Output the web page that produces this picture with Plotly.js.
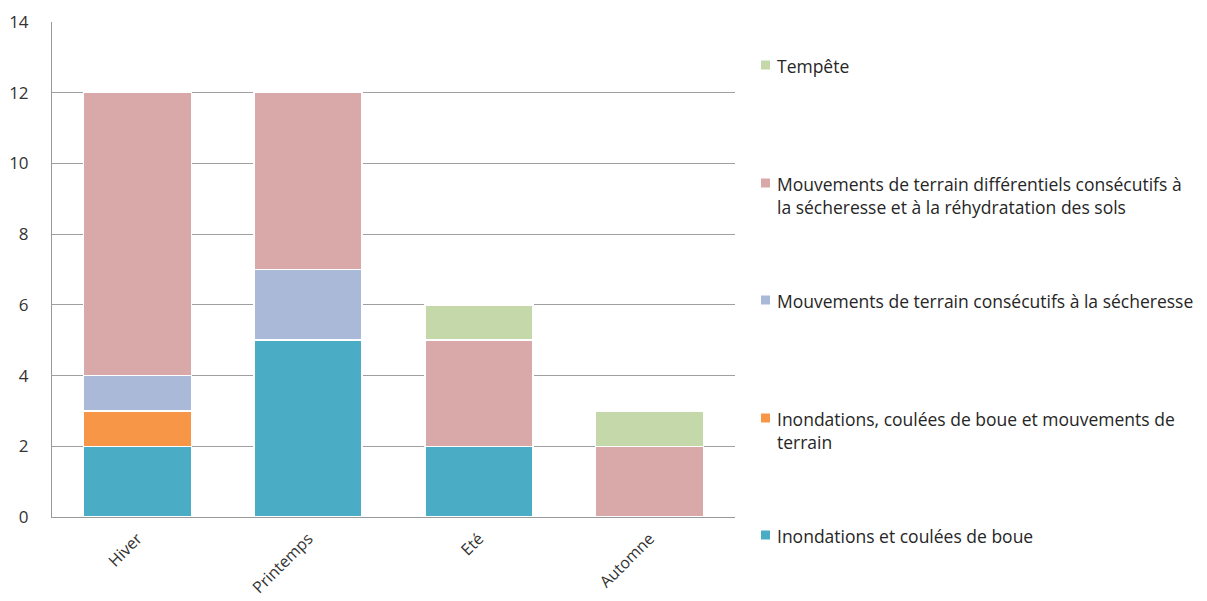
<!DOCTYPE html>
<html><head><meta charset="utf-8">
<script src="https://cdn.plot.ly/plotly-3.0.1.min.js"></script>
<style>body{margin:0;background:#fff}#c{width:1207px;height:601px}</style>
</head><body><div id="c"></div>
<script>
const categories = ["Hiver", "Printemps", "Eté", "Automne"];
const seriesNames = [
  "Inondations et coulées de boue",
  "Inondations, coulées de boue et mouvements de terrain",
  "Mouvements de terrain consécutifs à la sécheresse",
  "Mouvements de terrain différentiels consécutifs à la sécheresse et à la réhydratation des sols",
  "Tempête"
];
const legendLabels = [
  "Inondations et coulées de boue",
  "Inondations, coulées de boue et mouvements de<br>terrain",
  "Mouvements de terrain consécutifs à la sécheresse",
  "Mouvements de terrain différentiels consécutifs à<br>la sécheresse et à la réhydratation des sols",
  "Tempête"
];
const inondations = [2, 5, 2, 0];
const inondationsMouv = [1, 0, 0, 0];
const mouvSecheresse = [1, 2, 0, 0];
const mouvDifferentiels = [8, 5, 3, 2];
const tempete = [0, 0, 1, 1];
const seriesValues = [inondations, inondationsMouv, mouvSecheresse, mouvDifferentiels, tempete];
const colors = ["#4BACC6", "#F79646", "#AAB9D7", "#D9A9AA", "#C5D8AA"];

const W = 1207, H = 601, L = 52, R = 735, T = 22, B = 517;
const font = "Open Sans, DejaVu Sans, sans-serif";

const traces = seriesNames.map((n, i) => ({
  type: "bar", name: n, x: categories, y: seriesValues[i],
  marker: {color: colors[i], line: {color: "#ffffff", width: 1.5}},
  hoverinfo: "x+y+name"
}));

const legendY = [535, 418, 300, 183, 65];
const px2x = p => (p - L) / (R - L);
const px2y = p => (B - p) / (B - T);
const shapes = [], annotations = [];
legendY.forEach((py, i) => {
  shapes.push({type: "rect", xref: "paper", yref: "paper",
    x0: px2x(761), x1: px2x(770), y0: px2y(py - 4.5), y1: px2y(py + 4.5),
    fillcolor: colors[i], line: {width: 0}});
  annotations.push({xref: "paper", yref: "paper", x: px2x(775), y: px2y(py - 13),
    xanchor: "left", yanchor: "top", align: "left", showarrow: false,
    text: legendLabels[i], font: {family: font, size: 17.5, color: "#262626"}});
});

const layout = {
  width: W, height: H,
  margin: {l: L, r: W - R, t: T, b: H - B, pad: 0},
  paper_bgcolor: "#fff", plot_bgcolor: "#fff",
  barmode: "stack", bargap: 0.367,
  showlegend: false,
  font: {family: font, size: 17, color: "#333"},
  xaxis: {tickangle: -45, showline: true, linecolor: "#999", linewidth: 1,
    showgrid: false, ticks: "", ticklabelstandoff: 5,
    tickfont: {family: font, size: 16, color: "#333"}},
  yaxis: {range: [0, 14], dtick: 2, showgrid: true, gridcolor: "#a0a0a0", gridwidth: 1,
    showline: true, linecolor: "#999", linewidth: 1, zeroline: false, ticks: "",
    ticklabelstandoff: 19, tickfont: {family: font, size: 17, color: "#333"}},
  shapes: shapes, annotations: annotations
};
Plotly.newPlot("c", traces, layout, {displayModeBar: false});
</script></body></html>
